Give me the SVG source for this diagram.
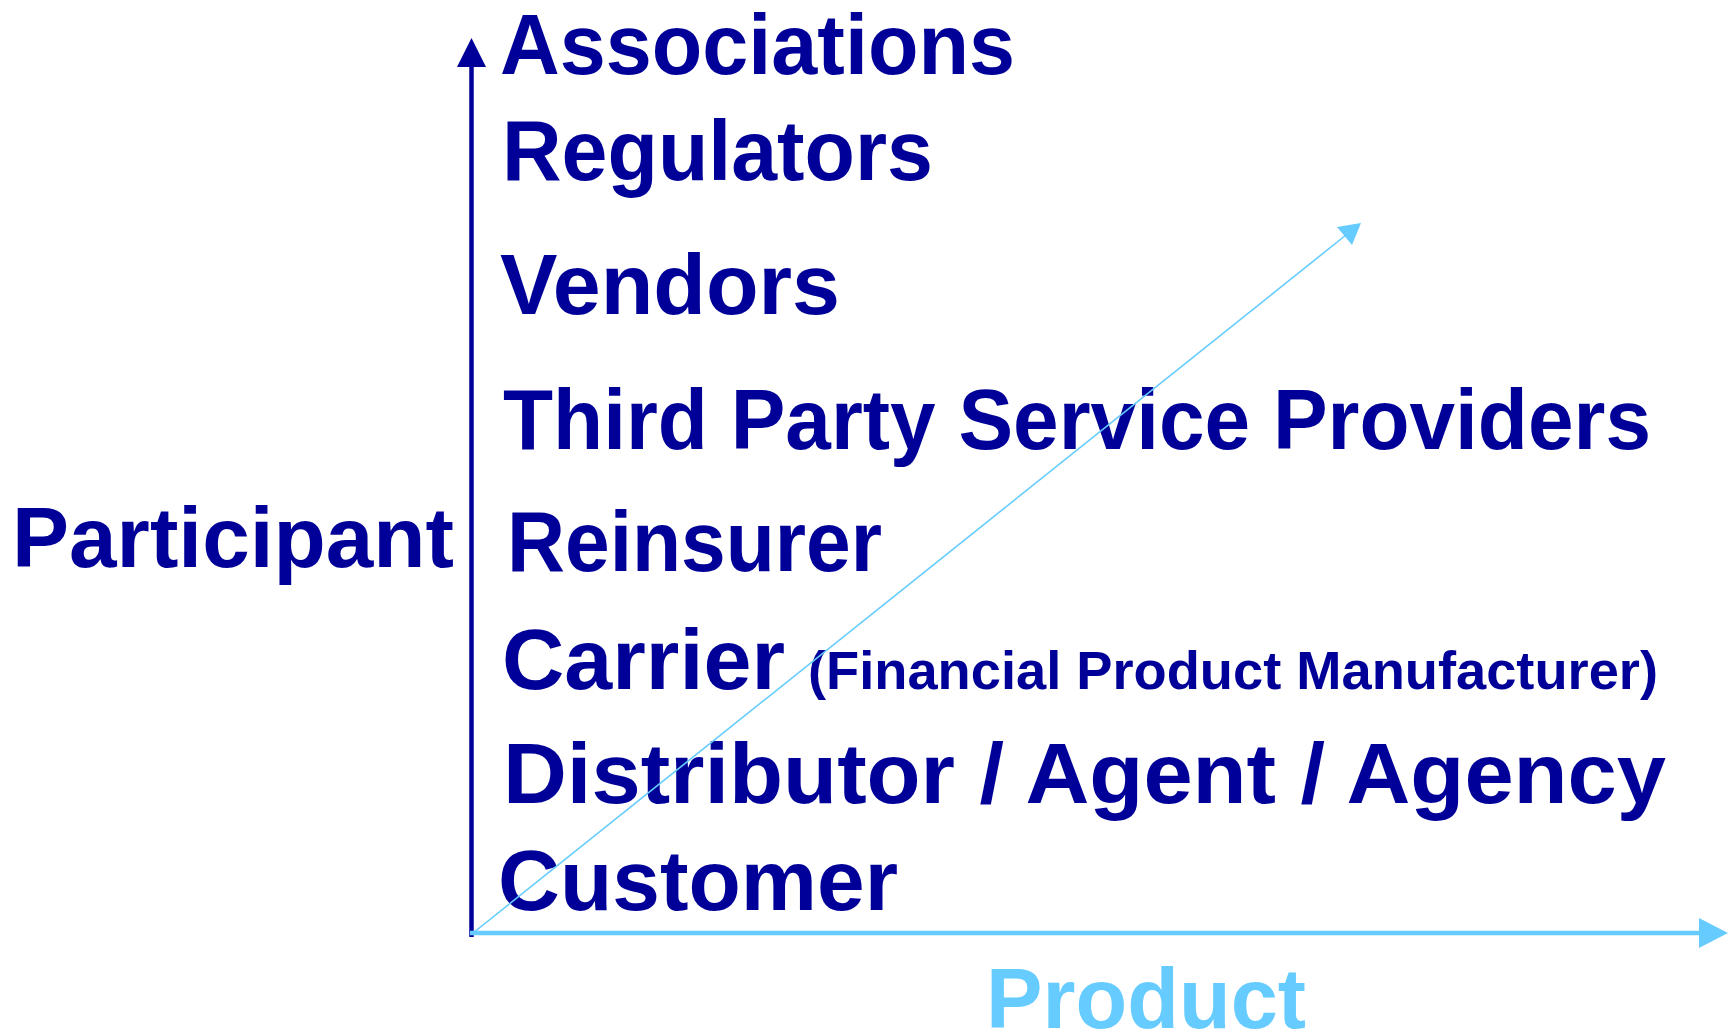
<svg xmlns="http://www.w3.org/2000/svg" width="1729" height="1034" viewBox="0 0 1729 1034">
  <style>
    .lbl { font-family: "Liberation Sans", Arial, sans-serif; font-weight: bold; font-size: 85px; fill: #000099; }
    .small { font-size: 54px; }
    .prod { fill: #66CCFF; }
  </style>
  <rect width="1729" height="1034" fill="#ffffff"/>
  <g id="participant-axis-label"><text class="lbl" x="12" y="567" textLength="442" lengthAdjust="spacingAndGlyphs">Participant</text></g>
  <g id="associations"><text class="lbl" x="500" y="74" textLength="515" lengthAdjust="spacingAndGlyphs">Associations</text></g>
  <g id="regulators"><text class="lbl" x="502" y="180" textLength="431" lengthAdjust="spacingAndGlyphs">Regulators</text></g>
  <g id="vendors"><text class="lbl" x="500" y="314" textLength="340" lengthAdjust="spacingAndGlyphs">Vendors</text></g>
  <g id="third-party"><text class="lbl" x="503" y="449" textLength="1148" lengthAdjust="spacingAndGlyphs">Third Party Service Providers</text></g>
  <g id="reinsurer"><text class="lbl" x="507" y="571" textLength="375" lengthAdjust="spacingAndGlyphs">Reinsurer</text></g>
  <g id="carrier">
    <text class="lbl" x="502" y="689" textLength="283" lengthAdjust="spacingAndGlyphs">Carrier</text>
    <text class="lbl small" x="808" y="689" textLength="850" lengthAdjust="spacingAndGlyphs">(Financial Product Manufacturer)</text>
  </g>
  <g id="distributor"><text class="lbl" x="503" y="803" textLength="1163" lengthAdjust="spacingAndGlyphs">Distributor / Agent / Agency</text></g>
  <g id="customer"><text class="lbl" x="498" y="910" textLength="400" lengthAdjust="spacingAndGlyphs">Customer</text></g>
  <g id="product-axis-label"><text class="lbl prod" x="986" y="1028" textLength="320" lengthAdjust="spacingAndGlyphs">Product</text></g>
  <g id="connectors">
    <line x1="471.5" y1="937" x2="471.5" y2="64" stroke="#000099" stroke-width="4.5"/>
    <polygon points="457,67 471.5,38 486,67" fill="#000099"/>
    <line x1="473" y1="933" x2="1346" y2="235" stroke="#66CCFF" stroke-width="1.6"/>
    <polygon points="1337,227 1361,223 1352,245" fill="#66CCFF"/>
    <line x1="470" y1="933" x2="1702" y2="933" stroke="#66CCFF" stroke-width="4.5"/>
    <polygon points="1699,918 1728,933 1699,948" fill="#66CCFF"/>
  </g>
</svg>
